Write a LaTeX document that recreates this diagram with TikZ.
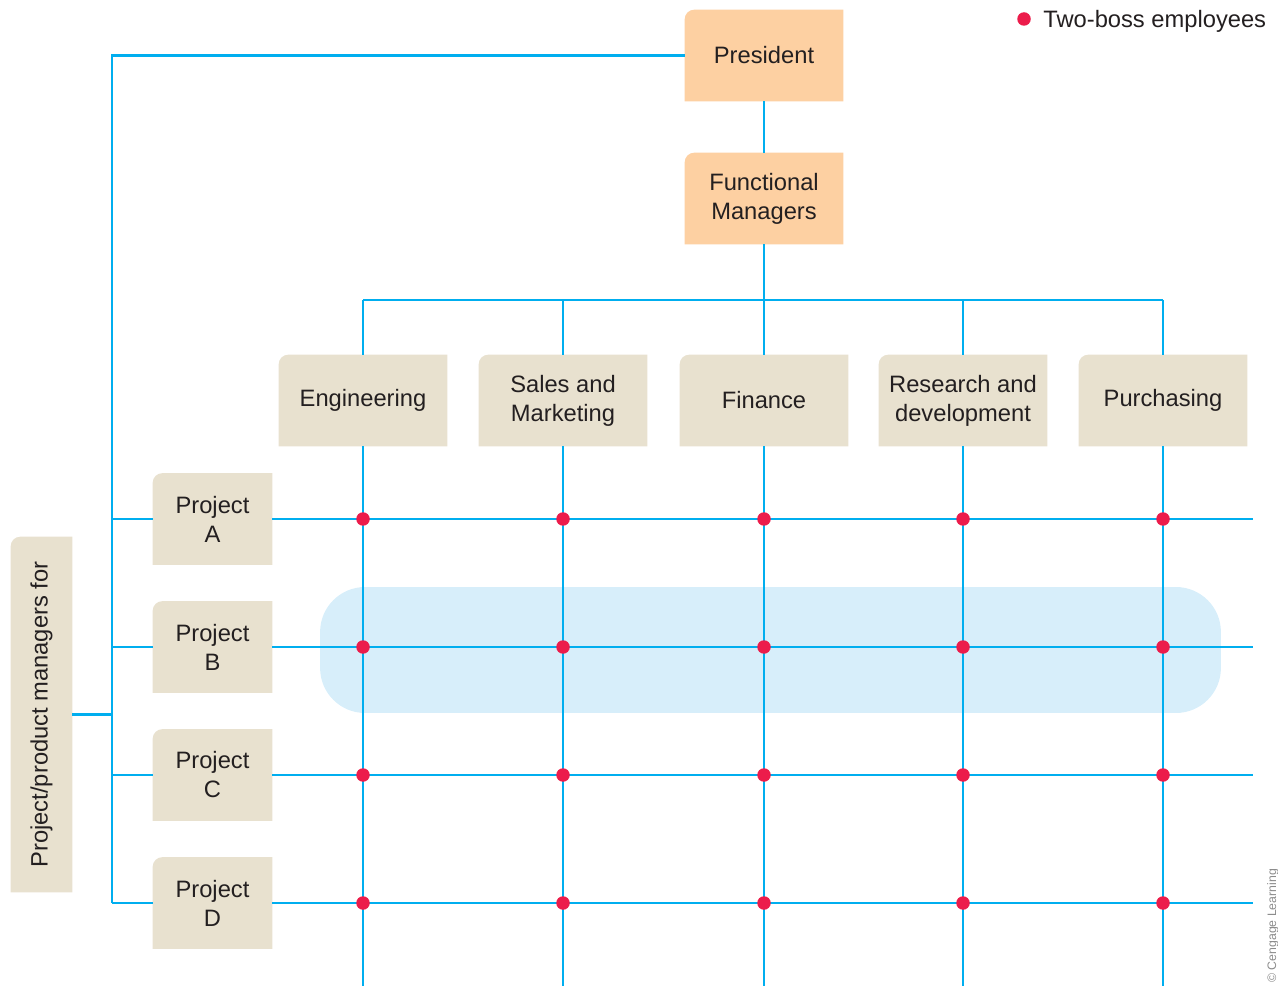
\documentclass[tikz,border=0pt]{standalone}
\usepackage{fontspec}
\setmainfont{Liberation Sans}
\usetikzlibrary{positioning, backgrounds, calc}

\definecolor{linkblue}{HTML}{00AEEF}
\definecolor{peach}{HTML}{FDD0A2}
\definecolor{sand}{HTML}{E8E1CF}
\definecolor{dotred}{HTML}{EC1C4B}
\definecolor{bandblue}{HTML}{D7EEFA}
\definecolor{ink}{HTML}{231F20}

\begin{document}
\begin{tikzpicture}[
    x=0.02cm, y=-0.02cm,
    tab/.style={append after command={\pgfextra{%
        \begin{pgfonlayer}{background}
          \fill[#1] (\tikzlastnode.south east) -- (\tikzlastnode.south west)
            [rounded corners=5.5pt] -- (\tikzlastnode.north west)
            [sharp corners] -- (\tikzlastnode.north east) -- cycle;
        \end{pgfonlayer}}}},
    card/.style={rectangle, inner sep=0pt, minimum height=1.82cm,
                 align=center, text=ink,
                 font=\fontsize{13.5pt}{16.5pt}\selectfont},
    top/.style={card, tab=peach, minimum width=3.16cm},
    dept/.style={card, tab=sand, minimum width=3.36cm},
    proj/.style={card, tab=sand, minimum width=2.38cm},
    link/.style={linkblue, line width=1.6pt},
    boss/.style={circle, fill=dotred, inner sep=0pt, minimum size=0.27cm}
]
  \useasboundingbox (0,0) rectangle (1278,986);

  % Highlighted project row
  \begin{scope}[on background layer]
    \node[fill=bandblue, rounded corners=0.9cm, minimum width=18.02cm,
          minimum height=2.52cm] (band) at (770.5,650) {};
  \end{scope}

  % Top of the hierarchy
  \node[top] (pres) at (764,55.5) {President};
  \node[top] (fm) at (764,198.5) {Functional\\Managers};

  % Functional departments
  \node[dept] (eng) at (363,400.5) {Engineering};
  \node[dept] (sales) at (563,400.5) {Sales and\\Marketing};
  \node[dept] (fin) at (764,400.5) {Finance};
  \node[dept] (rd) at (963,400.5) {Research and\\development};
  \node[dept] (pur) at (1163,400.5) {Purchasing};

  % Projects
  \node[proj] (pa) at (212.5,519) {Project\\A};
  \node[proj] (pb) at (212.5,647) {Project\\B};
  \node[proj] (pc) at (212.5,775) {Project\\C};
  \node[proj] (pd) at (212.5,903) {Project\\D};

  \node[card, tab=sand, minimum width=1.22cm, minimum height=7.1cm]
    (mgr) at (41.5,714.5) {\rotatebox{90}{Project/product managers for}};

  % Helper points for the line ends
  \coordinate (bus) at (764,300);
  \coordinate (spine) at (112,0);
  \coordinate (rim) at (1253,0);
  \coordinate (floor) at (0,986);

  % President down to the departments
  \draw[link] (pres) -- (fm);
  \draw[link] (fm) -- (bus);
  \draw[link] (bus -| eng) -- (bus -| pur);
  \draw[link] (bus -| eng) -- (eng);
  \draw[link] (bus -| sales) -- (sales);
  \draw[link] (bus -| fin) -- (fin);
  \draw[link] (bus -| rd) -- (rd);
  \draw[link] (bus -| pur) -- (pur);

  % Department columns
  \draw[link] (eng) -- (eng |- floor);
  \draw[link] (sales) -- (sales |- floor);
  \draw[link] (fin) -- (fin |- floor);
  \draw[link] (rd) -- (rd |- floor);
  \draw[link] (pur) -- (pur |- floor);

  % President over to the project managers
  \draw[link] (pres) -- (pres -| spine) -- (spine |- pd);
  \draw[link] (mgr) -- (mgr -| spine);
  \draw[link] (spine |- pa) -- (pa);
  \draw[link] (spine |- pb) -- (pb);
  \draw[link] (spine |- pc) -- (pc);
  \draw[link] (spine |- pd) -- (pd);

  % Project rows
  \draw[link] (pa) -- (pa -| rim);
  \draw[link] (pb) -- (pb -| rim);
  \draw[link] (pc) -- (pc -| rim);
  \draw[link] (pd) -- (pd -| rim);

  % Two-boss crossings
  \foreach \d in {eng, sales, fin, rd, pur}
    \foreach \p in {pa, pb, pc, pd}
      \node[boss] (\d-\p) at (\d |- \p) {};

  % Legend
  \node[boss] (key) at (1024,19) {};
  \node[anchor=west, inner sep=0pt, text=ink,
        font=\fontsize{13.5pt}{16.5pt}\selectfont] (keytext) at (1043,21)
    {Two-boss employees};

  \node[rotate=90, anchor=west, inner sep=0pt, text=black!45,
        font=\fontsize{7pt}{8pt}\selectfont] (credit) at (1273,983)
    {\textcopyright{} Cengage Learning};
\end{tikzpicture}
\end{document}
